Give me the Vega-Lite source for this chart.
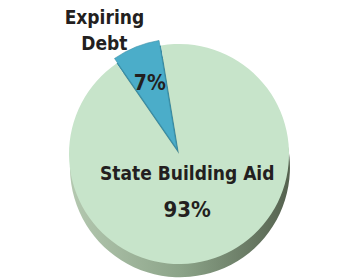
{
  "$schema": "https://vega.github.io/schema/vega-lite/v6.json",
  "width": 358,
  "height": 248,
  "autosize": {"type": "none"},
  "padding": {"top": 30, "left": 0, "right": 0, "bottom": 0},
  "background": "white",
  "view": {"stroke": null},
  "data": {"values": [
    {"category": "Expiring Debt", "share": 7},
    {"category": "State Building Aid", "share": 93}
  ]},
  "transform": [{"calculate": "datum.share + '%'", "as": "pct"}],
  "config": {"text": {"font": "Liberation Sans Narrow, DejaVu Sans Condensed, Roboto, sans-serif", "fontWeight": "bold", "fill": "#231f20"}},
  "layer": [
    {
      "transform": [{"aggregate": [{"op": "sum", "field": "share", "as": "total"}]}],
      "mark": {"type": "arc", "radius": 110, "yOffset": 14,
        "fill": {"gradient": "linear", "x1": 0, "y1": 0, "x2": 1, "y2": 0,
          "stops": [{"offset": 0, "color": "#b4c8b0"}, {"offset": 0.5, "color": "#8ca489"}, {"offset": 1, "color": "#55624f"}]}},
      "encoding": {"theta": {"field": "total", "type": "quantitative", "stack": true, "scale": {"domain": [0, 100], "range": [-0.604, 5.679]}}}
    },
    {
      "mark": {"type": "arc", "radius": 110},
      "encoding": {
        "theta": {"field": "share", "type": "quantitative", "stack": true, "scale": {"domain": [0, 100], "range": [-0.604, 5.679]}},
        "order": {"field": "category", "sort": "ascending"},
        "color": {"field": "category", "type": "nominal", "scale": {"domain": ["Expiring Debt", "State Building Aid"], "range": ["#3a8aa0", "#c7e4ca"]}, "legend": null}
      }
    },
    {
      "mark": {"type": "arc", "radius": 110, "xOffset": -2, "yOffset": -5, "fill": "#4badc9", "stroke": "#3a8ea6", "strokeWidth": 0.6},
      "encoding": {
        "theta": {"field": "share", "type": "quantitative", "stack": true, "scale": {"domain": [0, 100], "range": [-0.604, 5.679]}},
        "order": {"field": "category", "sort": "ascending"},
        "opacity": {"condition": {"test": "datum.category === 'Expiring Debt'", "value": 1}, "value": 0}
      }
    },
    {
      "mark": {"type": "text", "radius": 135, "dx": -24, "dy": -11, "fontSize": 19, "lineBreak": " ", "lineHeight": 26, "baseline": "middle"},
      "encoding": {
        "theta": {"field": "share", "type": "quantitative", "stack": true, "scale": {"domain": [0, 100], "range": [-0.604, 5.679]}},
        "order": {"field": "category", "sort": "ascending"},
        "text": {"condition": {"test": "datum.category === 'Expiring Debt'", "field": "category"}, "value": ""}
      }
    },
    {
      "mark": {"type": "text", "radius": 70, "dx": -3, "dy": -5, "fontSize": 21, "baseline": "middle"},
      "encoding": {
        "theta": {"field": "share", "type": "quantitative", "stack": true, "scale": {"domain": [0, 100], "range": [-0.604, 5.679]}},
        "order": {"field": "category", "sort": "ascending"},
        "text": {"condition": {"test": "datum.category === 'Expiring Debt'", "field": "pct"}, "value": ""}
      }
    },
    {
      "mark": {"type": "text", "radius": 22, "fontSize": 19, "baseline": "middle"},
      "encoding": {
        "theta": {"field": "share", "type": "quantitative", "stack": true, "scale": {"domain": [0, 100], "range": [-0.604, 5.679]}},
        "order": {"field": "category", "sort": "ascending"},
        "text": {"condition": {"test": "datum.category === 'State Building Aid'", "field": "category"}, "value": ""}
      }
    },
    {
      "mark": {"type": "text", "radius": 22, "dy": 36, "fontSize": 22, "baseline": "middle"},
      "encoding": {
        "theta": {"field": "share", "type": "quantitative", "stack": true, "scale": {"domain": [0, 100], "range": [-0.604, 5.679]}},
        "order": {"field": "category", "sort": "ascending"},
        "text": {"condition": {"test": "datum.category === 'State Building Aid'", "field": "pct"}, "value": ""}
      }
    }
  ]
}
